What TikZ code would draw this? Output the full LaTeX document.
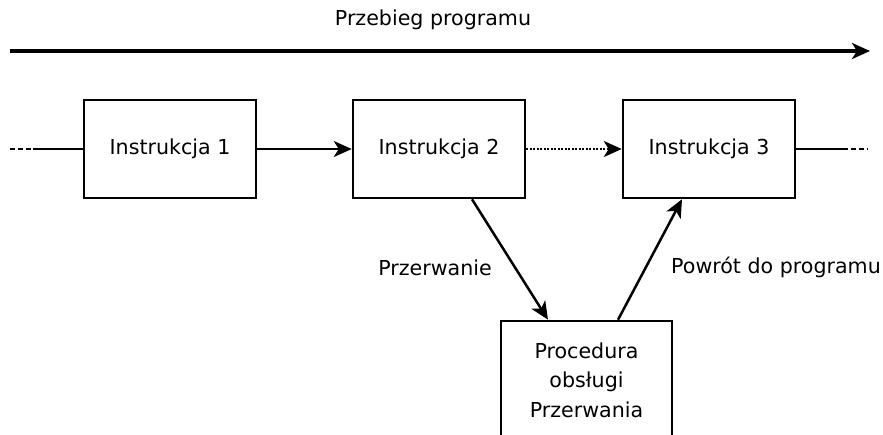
\documentclass[tikz,border=0pt]{standalone}
\usepackage{fontspec}
\setmainfont{DejaVu Sans}
\usetikzlibrary{arrows.meta,calc}
\begin{document}
\begin{tikzpicture}[x=1pt,y=-1pt,
  font=\fontsize{20.6}{29.5}\selectfont,
  box/.style={draw,line width=2.5pt,minimum width=172pt,minimum height=98pt,inner sep=0pt,align=center},
  conn/.style={line width=2.5pt},
  arr/.style={conn,-{Stealth[length=18pt,width=16pt,inset=5pt]}},
  lbl/.style={inner sep=0pt}]
\useasboundingbox (0,0) rectangle (883,434);
\clip (0,0) rectangle (883,434);

% program flow arrow
\node[lbl] (flow) at (433,20) {Przebieg programu};
\coordinate (fa) at (10,51);
\coordinate (fb) at (870,51);
\draw[arr,line width=3.2pt] (fa) -- (fb);

% instruction boxes
\node[box] (i1) at (170,149) {Instrukcja 1};
\node[box] (i2) at (439,149) {Instrukcja 2};
\node[box] (i3) at (709,149) {Instrukcja 3};

% interrupt service routine (runs off the lower edge)
\node[box,minimum width=171pt,minimum height=118pt] (proc) at (586.5,380) {Procedura\\obsługi\\Przerwania};

% incoming and outgoing program lines
\coordinate (l0) at (10,149);
\coordinate (l1) at (33,149);
\coordinate (r1) at (843,149);
\coordinate (r0) at (868,149);
\draw[conn,dash pattern=on 5pt off 3pt] (l0) -- (l1);
\draw[conn] (l1) -- (i1.west);
\draw[conn] (i3.east) -- (r1);
\draw[conn,dash pattern=on 5pt off 3pt] (r1) -- (r0);

% sequence between instructions
\draw[arr] (i1.east) -- (i2.west);
\draw[arr,dash pattern=on 2pt off 1.5pt] (i2.east) -- (i3.west);

% interrupt and return
\draw[arr] ([xshift=33pt]i2.south) -- ([xshift=-38.5pt]proc.north);
\draw[arr] ([xshift=31.5pt]proc.north) -- ([xshift=-27pt]i3.south);
\node[lbl] (intr) at (435,268) {Przerwanie};
\node[lbl] (ret) at (776,267) {Powrót do programu};
\end{tikzpicture}
\end{document}
